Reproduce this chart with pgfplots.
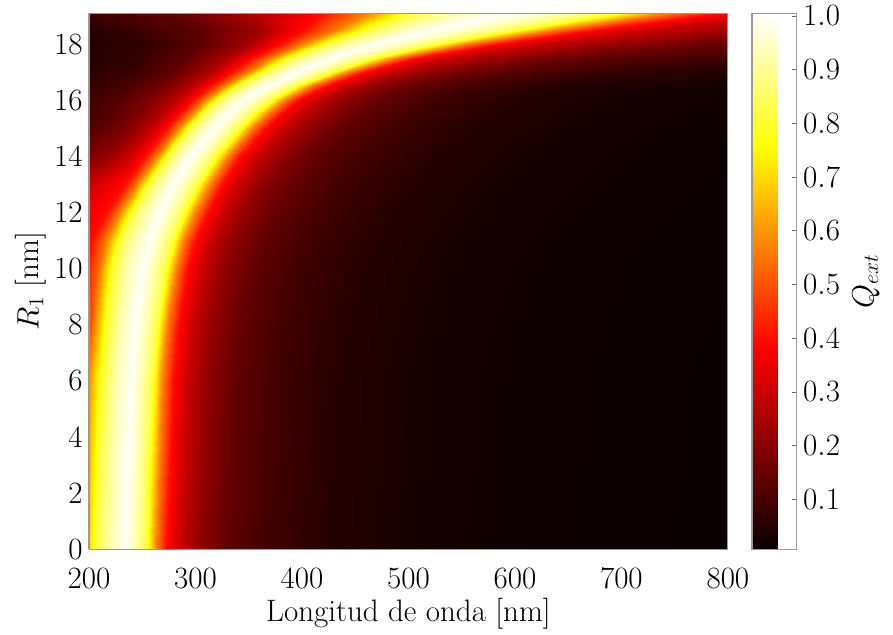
\documentclass[border=0pt]{standalone}
\usepackage{pgfplots}
\pgfplotsset{compat=1.18}
\pgfplotstableread{
x y z
54 0 0.28
99 0 0.30
135 0 0.33
162 0 0.36
180 0 0.40
193.5 0 0.57
207 0 0.82
220.5 0 0.93
234 0 1.0
243.6 0 0.93
253.2 0 0.82
262.8 0 0.57
272.4 0 0.40
285.2 0 0.30
304.4 0 0.21
330 0 0.14
368.4 0 0.09
426 0 0.045
522 0 0.022
682 0 0.01
938 0 0.005
56 3 0.28
101 3 0.30
137 3 0.33
164 3 0.36
182 3 0.40
195.5 3 0.57
209 3 0.82
222.5 3 0.93
236 3 1.0
245.9 3 0.93
255.8 3 0.82
265.7 3 0.57
275.6 3 0.40
288.8 3 0.30
308.6 3 0.21
335 3 0.14
374.6 3 0.09
434 3 0.045
533 3 0.022
698 3 0.01
962 3 0.005
55 6 0.28
101 6 0.30
137.8 6 0.33
165.4 6 0.36
183.8 6 0.40
197.6 6 0.55
211.4 6 0.80
225.2 6 0.93
239 6 1.0
248.9 6 0.93
258.8 6 0.82
268.7 6 0.57
278.6 6 0.40
291.8 6 0.30
311.6 6 0.21
338 6 0.14
377.6 6 0.09
437 6 0.045
536 6 0.022
701 6 0.01
965 6 0.005
55 8 0.28
102 8 0.30
139.6 8 0.33
167.8 8 0.36
186.6 8 0.40
200.7 8 0.50
214.8 8 0.78
228.9 8 0.93
243 8 1.0
253.2 8 0.93
263.4 8 0.82
273.6 8 0.57
283.8 8 0.40
297.4 8 0.30
317.8 8 0.21
345 8 0.14
385.8 8 0.09
447 8 0.045
549 8 0.022
719 8 0.01
991 8 0.005
62 10 0.28
109 10 0.30
146.6 10 0.33
174.8 10 0.36
193.6 10 0.38
207.7 10 0.52
221.8 10 0.80
235.9 10 0.93
250 10 1.0
260.5 10 0.93
271 10 0.82
281.5 10 0.57
292 10 0.40
306 10 0.30
327 10 0.21
355 10 0.14
397 10 0.09
460 10 0.045
565 10 0.022
740 10 0.01
1020 10 0.005
76 11 0.28
121 11 0.30
157 11 0.33
184 11 0.36
202 11 0.40
215.5 11 0.57
229 11 0.82
242.5 11 0.93
256 11 1.0
266.8 11 0.93
277.6 11 0.82
288.4 11 0.57
299.2 11 0.40
313.6 11 0.30
335.2 11 0.21
364 11 0.14
407.2 11 0.09
472 11 0.045
580 11 0.022
760 11 0.01
1048 11 0.005
98 12 0.28
140 12 0.31
173.6 12 0.34
198.8 12 0.36
215.6 12 0.40
228.2 12 0.57
240.8 12 0.82
253.4 12 0.93
266 12 1.0
277.1 12 0.93
288.2 12 0.82
299.3 12 0.57
310.4 12 0.40
325.2 12 0.30
347.4 12 0.21
377 12 0.14
421.4 12 0.09
488 12 0.045
599 12 0.022
784 12 0.01
1080 12 0.005
127 13 0.22
165 13 0.25
195.4 13 0.29
218.2 13 0.35
233.4 13 0.40
244.8 13 0.57
256.2 13 0.82
267.6 13 0.93
279 13 1.0
290.4 13 0.93
301.8 13 0.82
313.2 13 0.57
324.6 13 0.40
339.8 13 0.30
362.6 13 0.21
393 13 0.14
438.6 13 0.09
507 13 0.045
621 13 0.022
811 13 0.01
1115 13 0.005
155 14 0.12
190 14 0.16
218 14 0.22
239 14 0.31
253 14 0.40
263.5 14 0.57
274 14 0.82
284.5 14 0.93
295 14 1.0
306.7 14 0.93
318.4 14 0.82
330.1 14 0.57
341.8 14 0.40
357.4 14 0.30
380.8 14 0.21
412 14 0.14
458.8 14 0.09
529 14 0.045
646 14 0.022
841 14 0.01
1153 14 0.005
172 15 0.10
208 15 0.13
236.8 15 0.19
258.4 15 0.29
272.8 15 0.40
283.6 15 0.57
294.4 15 0.82
305.2 15 0.93
316 15 1.0
328.3 15 0.93
340.6 15 0.82
352.9 15 0.57
365.2 15 0.40
381.6 15 0.30
406.2 15 0.21
439 15 0.14
488.2 15 0.09
562 15 0.045
685 15 0.022
890 15 0.01
1218 15 0.005
181 15.5 0.08
218 15.5 0.12
247.6 15.5 0.19
269.8 15.5 0.28
284.6 15.5 0.40
295.7 15.5 0.57
306.8 15.5 0.82
317.9 15.5 0.93
329 15.5 1.0
341.6 15.5 0.93
354.2 15.5 0.82
366.8 15.5 0.57
379.4 15.5 0.40
396.2 15.5 0.30
421.4 15.5 0.21
455 15.5 0.14
505.4 15.5 0.09
581 15.5 0.045
707 15.5 0.022
917 15.5 0.01
1253 15.5 0.005
188 16 0.08
227 16 0.12
258.2 16 0.19
281.6 16 0.28
297.2 16 0.40
308.9 16 0.57
320.6 16 0.82
332.3 16 0.93
344 16 1.0
356.9 16 0.93
369.8 16 0.82
382.7 16 0.57
395.6 16 0.40
412.8 16 0.30
438.6 16 0.21
473 16 0.14
524.6 16 0.09
602 16 0.045
731 16 0.022
946 16 0.01
1290 16 0.005
190 16.5 0.065
234 16.5 0.10
269.2 16.5 0.17
295.6 16.5 0.27
313.2 16.5 0.40
326.4 16.5 0.57
339.6 16.5 0.82
352.8 16.5 0.93
366 16.5 1.0
379.8 16.5 0.93
393.6 16.5 0.82
407.4 16.5 0.57
421.2 16.5 0.40
439.6 16.5 0.30
467.2 16.5 0.21
504 16.5 0.14
559.2 16.5 0.09
642 16.5 0.045
780 16.5 0.022
1010 16.5 0.01
1378 16.5 0.005
191 17 0.05
242 17 0.08
282.8 17 0.15
313.4 17 0.26
333.8 17 0.40
349.1 17 0.57
364.4 17 0.82
379.7 17 0.93
395 17 1.0
410.9 17 0.93
426.8 17 0.82
442.7 17 0.57
458.6 17 0.40
479.8 17 0.30
511.6 17 0.23
554 17 0.16
617.6 17 0.11
713 17 0.06
872 17 0.03
1137 17 0.012
1561 17 0.006
185 17.5 0.04
245 17.5 0.07
293 17.5 0.14
329 17.5 0.25
353 17.5 0.40
371 17.5 0.57
389 17.5 0.82
407 17.5 0.93
425 17.5 1.0
445.4 17.5 0.93
465.8 17.5 0.82
486.2 17.5 0.57
506.6 17.5 0.40
533.8 17.5 0.30
574.6 17.5 0.24
629 17.5 0.17
710.6 17.5 0.12
833 17.5 0.07
1037 17.5 0.035
1377 17.5 0.015
1921 17.5 0.007
172 18 0.03
246 18 0.06
305.2 18 0.13
349.6 18 0.24
379.2 18 0.40
401.4 18 0.57
423.6 18 0.82
445.8 18 0.93
468 18 1.0
496.5 18 0.93
525 18 0.82
553.5 18 0.57
582 18 0.40
620 18 0.30
677 18 0.24
753 18 0.17
867 18 0.12
1038 18 0.07
1323 18 0.035
1798 18 0.015
2558 18 0.007
122 18.5 0.035
222 18.5 0.06
302 18.5 0.13
362 18.5 0.24
402 18.5 0.40
432 18.5 0.57
462 18.5 0.82
492 18.5 0.93
522 18.5 1.0
559.5 18.5 0.93
597 18.5 0.82
634.5 18.5 0.57
672 18.5 0.40
722 18.5 0.30
797 18.5 0.24
897 18.5 0.17
1047 18.5 0.12
1272 18.5 0.07
1647 18.5 0.035
2272 18.5 0.015
3272 18.5 0.007
32 19 0.05
169 19 0.06
278.6 19 0.13
360.8 19 0.27
415.6 19 0.40
456.7 19 0.57
497.8 19 0.82
538.9 19 0.93
580 19 1.0
628 19 0.93
676 19 0.82
724 19 0.57
772 19 0.40
836 19 0.30
932 19 0.24
1060 19 0.17
1252 19 0.12
1540 19 0.07
2020 19 0.035
2820 19 0.015
4100 19 0.007
12 19.1 0.055
157 19.1 0.065
273 19.1 0.13
360 19.1 0.27
418 19.1 0.40
461.5 19.1 0.57
505 19.1 0.82
548.5 19.1 0.93
592 19.1 1.0
642.4 19.1 0.93
692.8 19.1 0.82
743.2 19.1 0.57
793.6 19.1 0.40
860.8 19.1 0.30
961.6 19.1 0.24
1096 19.1 0.17
1297.6 19.1 0.12
1600 19.1 0.07
2104 19.1 0.035
2944 19.1 0.015
4288 19.1 0.007
}\qext
\begin{document}
\begin{tikzpicture}
\begin{axis}[
  name=main,
  view={0}{90},
  scale only axis,
  width=356pt, height=298.7pt,
  xmin=200, xmax=800, ymin=0, ymax=19.1,
  xtick={200,300,400,500,600,700,800},
  ytick={0,2,4,6,8,10,12,14,16,18},
  major tick length=0pt,
  axis line style={draw=gray!80, line width=0.6pt},
  tick label style={font=\fontsize{17.28}{20}\selectfont},
  label style={font=\fontsize{17.28}{20}\selectfont},
  xlabel={Longitud de onda [nm]},
  ylabel={$R_1$ [nm]},
  xticklabel style={yshift=-6.9pt},
  xlabel style={yshift=1.3pt},
  ylabel style={yshift=-2.5pt},
  colormap={hotm}{rgb255(0cm)=(10,0,0); rgb255(3cm)=(255,0,0); rgb255(6cm)=(255,255,0); rgb255(8cm)=(255,255,255)},
  point meta min=0.007, point meta max=1.005,
  colorbar,
  colorbar style={
    at={(1.0376,1)}, anchor=north west,
    width=25pt,
    ytick={0.1,0.2,0.3,0.4,0.5,0.6,0.7,0.8,0.9,1.0},
    yticklabel style={font=\fontsize{17.28}{20}\selectfont,
      /pgf/number format/.cd, fixed, fixed zerofill, precision=1},
    ylabel={$Q_{ext}$},
    ylabel style={font=\fontsize{17.28}{20}\selectfont},
    axis line style={draw=gray!80, line width=0.8pt},
    major tick length=2.5pt,
    tick align=inside,
    ytick pos=right,
    ytick style={draw=black!60, line width=0.5pt},
  },
  axis on top,
]
\addplot3[surf, shader=interp, mesh/cols=21, point meta=\thisrow{z}] table[x=x, y=y, z=z] {\qext};
\end{axis}
\path ([xshift=-49.6pt]main.south west);
\path ([xshift=92pt]main.north east);
\end{tikzpicture}
\end{document}
